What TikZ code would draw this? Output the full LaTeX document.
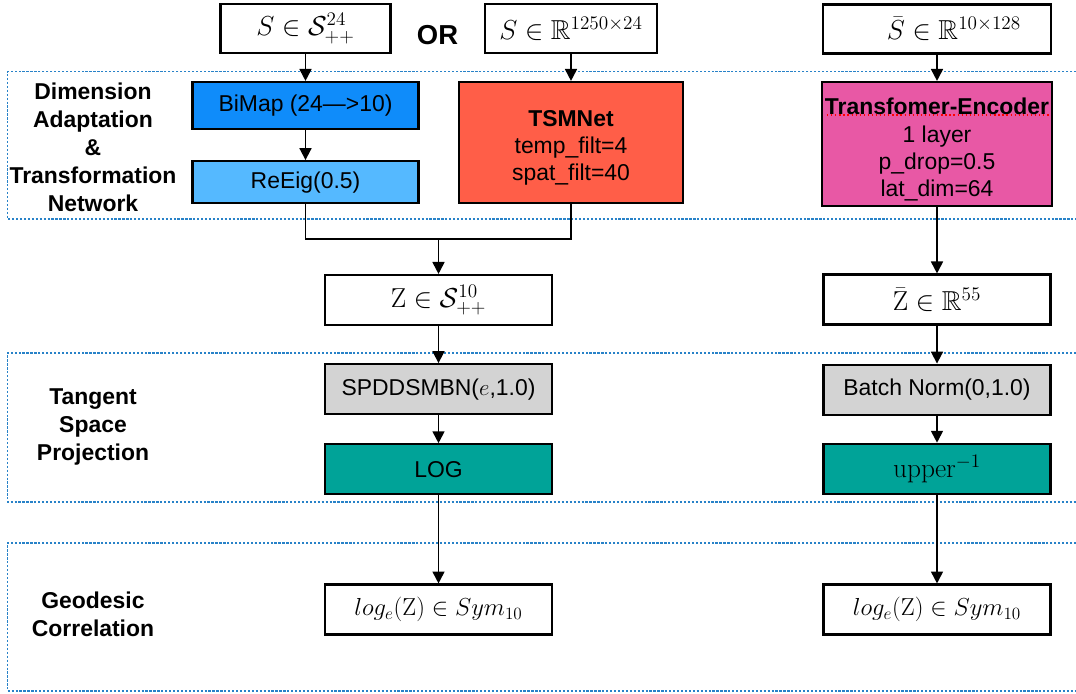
\RequirePackage{fix-cm}
\documentclass[tikz,border=0pt]{standalone}
\usepackage{amsmath}
\usepackage{amssymb}
\usepackage{fontspec}
\setsansfont{Liberation Sans}
\usetikzlibrary{arrows.meta, positioning, calc}

\definecolor{bimapblue}{RGB}{15,140,250}
\definecolor{reeigblue}{RGB}{85,185,255}
\definecolor{tsmred}{RGB}{255,94,72}
\definecolor{encpink}{RGB}{232,88,165}
\definecolor{bngray}{RGB}{211,211,211}
\definecolor{logteal}{RGB}{0,163,152}
\definecolor{regionblue}{RGB}{40,130,200}

\begin{document}
\begin{tikzpicture}[
        x=0.025cm, y=-0.025cm,
        >={Triangle[length=8.5pt,width=8.5pt]},
        node distance=0.7cm,
        box/.style={
            rectangle, draw=black, line width=1.5pt, inner sep=2pt, align=center,
            font=\sffamily\fontsize{16.3}{19.5}\selectfont,
            minimum width=5.675cm, minimum height=1.25cm
        },
        inbox/.style={box, fill=white, font=\fontsize{19.5}{22}\selectfont},
        arrow/.style={->, line width=1.3pt},
        region/.style={draw=regionblue, line width=0.8pt, dash pattern=on 1.6pt off 1.2pt},
        lbl/.style={align=center, font=\sffamily\bfseries\fontsize{16.3}{19.9}\selectfont}
    ]
    \useasboundingbox (0,0) rectangle (1076,693);

    % --- Blocks (dotted) ---
    \draw[region] (1076,71.5) -- (7.5,71.5) -- (7.5,219) -- (1076,219);
    \draw[region] (1076,353) -- (7.5,353) -- (7.5,502) -- (1076,502);
    \draw[region] (1076,543) -- (7.5,543) -- (7.5,691) -- (1076,691);

    \node[lbl] (dimlbl) at (93,147) {Dimension\\Adaptation\\\&\\Transformation\\Network};
    \node[lbl] (tanlbl) at (93,427) {Tangent\\Space\\Projection};
    \node[lbl] (geolbl) at (93,614) {Geodesic\\Correlation};

    % --- Inputs ---
    \node[inbox, minimum width=4.25cm, minimum height=1.225cm] (spdin) at (305.5,28.5) {$S \in \mathcal{S}^{24}_{++}$};
    \node[font=\sffamily\bfseries\fontsize{19.5}{22}\selectfont] (or) at (437.5,35) {OR};
    \node[inbox, minimum width=4.3cm, minimum height=1.225cm] (rawin) at (571,28.5) {$S \in \mathbb{R}^{1250\times 24}$};
    \node[inbox, minimum width=5.7cm, minimum height=1.225cm] (seqin) at (937,29) {\hspace*{24pt}$\bar{S} \in \mathbb{R}^{10\times 128}$};

    % --- Left branch ---
    \node[box, fill=bimapblue, minimum width=5.65cm, minimum height=1.175cm] (bimap) at (305.5,105.5) {BiMap (24—>10)};
    \node[box, fill=reeigblue, minimum width=5.65cm, minimum height=1.05cm, below=0.75cm of bimap] (reeig) {ReEig(0.5)};
    \node[box, fill=tsmred, minimum width=5.6cm, minimum height=3.025cm] (tsm) at (571,142.5) {
        \rule{0pt}{19pt}\textbf{TSMNet}\\
        temp\_filt=4\\
        spat\_filt=40
    };

    \node[inbox] (z) at (438.5,300) {$\mathrm{Z} \in \mathcal{S}^{10}_{++}$};
    \node[box, fill=bngray, below=0.925cm of z] (spd) {SPDDSMBN($e$,1.0)};
    \node[box, fill=logteal, below=0.7cm of spd] (log) {LOG};
    \node[inbox, font=\fontsize{17.5}{20}\selectfont] (lz) at (438.5,609.5) {$log_e(\mathrm{Z}) \in Sym_{10}$};

    % --- Right branch ---
    \node[box, fill=encpink, minimum width=5.625cm, minimum height=3.1cm] (enc) at (937,144) {
        \rule{0pt}{20pt}\textbf{Transfomer-Encoder}\\
        1 layer\\
        p\_drop=0.5\\
        lat\_dim=64
    };
    \draw[red, line width=0.9pt, dotted] ($(enc.north west)+(6,34)$) -- ($(enc.north east)+(-4,34)$);

    \node[inbox] (zbar) at (937,299.5) {$\bar{\mathrm{Z}} \in \mathbb{R}^{55}$};
    \node[box, fill=bngray, below=0.95cm of zbar] (bn) {Batch Norm(0,1.0)};
    \node[box, fill=logteal, below=0.675cm of bn, font=\fontsize{19.5}{22}\selectfont] (up) {$\mathrm{upper}^{-1}$};
    \node[inbox, font=\fontsize{17.5}{20}\selectfont] (lzbar) at (937,609.5) {$log_e(\mathrm{Z}) \in Sym_{10}$};

    % --- Connections ---
    \coordinate (merge) at ($(z.north)+(0,-35)$);
    \draw[arrow] (spdin) -- (bimap);
    \draw[arrow] (bimap) -- (reeig);
    \draw[arrow] (rawin) -- (tsm);
    \draw[line width=1.3pt] (reeig.south) |- (merge) -| (tsm.south);
    \draw[arrow] (merge) -- (z);
    \draw[arrow] (z) -- (spd);
    \draw[arrow] (spd) -- (log);
    \draw[arrow] (log) -- (lz);

    \draw[arrow] (seqin) -- (enc);
    \draw[arrow] (enc) -- (zbar);
    \draw[arrow] (zbar) -- (bn);
    \draw[arrow] (bn) -- (up);
    \draw[arrow] (up) -- (lzbar);

\end{tikzpicture}
\end{document}
